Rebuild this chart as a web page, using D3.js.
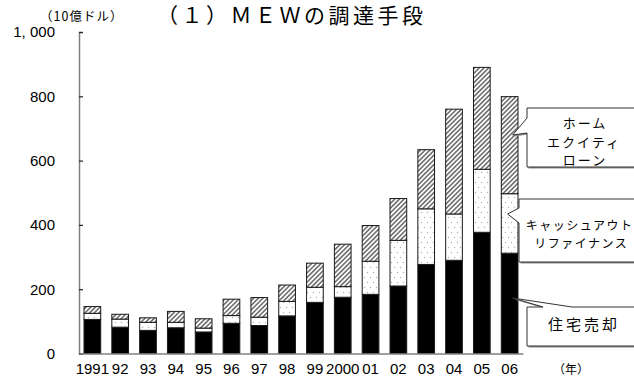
<!DOCTYPE html>
<html>
<head>
<meta charset="utf-8">
<script src="https://cdn.jsdelivr.net/npm/d3@7"></script>
<style>
  html, body { margin: 0; padding: 0; background: #fff; }
  svg { display: block; }
  .num { font-family: "Liberation Sans", Arial, sans-serif; }
  .jp { font-family: "Noto Sans CJK JP", "Noto Sans", sans-serif; }
</style>
</head>
<body>
<script>
// Mortgage equity withdrawal (MEW) by funding source, billions of dollars
const years = ["1991","92","93","94","95","96","97","98","99","2000","01","02","03","04","05","06"];
const homeSales = [106, 82, 72, 80, 67, 94, 87, 117, 159, 175, 184, 210, 277, 290, 377, 312];
const cashOutRefi = [19, 25, 25, 17, 12, 24, 26, 45, 47, 33, 103, 142, 173, 144, 196, 185];
const homeEquityLoans = [21, 15, 14, 34, 29, 51, 61, 51, 75, 132, 111, 130, 184, 326, 317, 302];
const yTicks = [0, 200, 400, 600, 800, 1000];
const seriesKeys = ["sales", "refi", "heloc"];

const W = 634, H = 378;
const svg = d3.select("body").append("svg").attr("width", W).attr("height", H);

// fill patterns
const defs = svg.append("defs");
const hatch = defs.append("pattern")
  .attr("id", "hatch").attr("patternUnits", "userSpaceOnUse")
  .attr("width", 3.3).attr("height", 3.3)
  .attr("patternTransform", "rotate(45)");
hatch.append("rect").attr("width", 3.3).attr("height", 3.3).attr("fill", "#fff");
hatch.append("line").attr("x1", 0.8).attr("x2", 0.8).attr("y1", 0).attr("y2", 3.3)
  .attr("stroke", "#747474").attr("stroke-width", 1.7);

const dots = defs.append("pattern")
  .attr("id", "dots").attr("patternUnits", "userSpaceOnUse")
  .attr("width", 6).attr("height", 10);
dots.append("rect").attr("width", 6).attr("height", 10).attr("fill", "#fff");
dots.append("circle").attr("cx", 1.5).attr("cy", 2.5).attr("r", 0.7).attr("fill", "#b0b0b0");
dots.append("circle").attr("cx", 4.5).attr("cy", 7.5).attr("r", 0.7).attr("fill", "#b0b0b0");

const fills = { sales: "#000", refi: "url(#dots)", heloc: "url(#hatch)" };

// scales
const x = d3.scaleBand().domain(years).range([79, 523]).paddingInner(0.4).paddingOuter(0.18);
const y = d3.scaleLinear().domain([0, 1000]).range([353.5, 32]);

const table = years.map((yr, i) => ({
  year: yr, sales: homeSales[i], refi: cashOutRefi[i], heloc: homeEquityLoans[i]
}));
const stacked = d3.stack().keys(seriesKeys)(table);

// bars
const layers = svg.append("g").selectAll("g").data(stacked).join("g")
  .attr("fill", d => fills[d.key]);
layers.selectAll("rect").data(d => d).join("rect")
  .attr("x", d => x(d.data.year))
  .attr("width", x.bandwidth())
  .attr("y", d => y(d[1]))
  .attr("height", d => y(d[0]) - y(d[1]))
  .attr("stroke", "#1a1a1a").attr("stroke-width", 1);

// y axis
const yAxis = svg.append("g").attr("transform", "translate(79,0)")
  .call(d3.axisLeft(y).tickValues(yTicks).tickSize(-4).tickPadding(24)
    .tickFormat(d => d === 1000 ? "1, 000" : d3.format("d")(d)));
yAxis.select(".domain").attr("stroke", "#808080").attr("stroke-width", 1.5);
yAxis.selectAll(".tick line").attr("stroke", "#222").attr("stroke-width", 1.2);
yAxis.selectAll(".tick text").attr("class", "num").attr("font-size", 15).attr("fill", "#000");

// x axis
const xAxis = svg.append("g").attr("transform", "translate(0,353.5)")
  .call(d3.axisBottom(x).tickSize(0).tickPadding(10).tickSizeOuter(0));
xAxis.select(".domain").attr("stroke", "#808080").attr("stroke-width", 1.5);
xAxis.selectAll(".tick text").attr("class", "num").attr("font-size", 15).attr("fill", "#000");

// titles and unit labels
svg.append("text").attr("class", "jp").attr("x", 157).attr("y", 23)
  .attr("font-size", 21).attr("letter-spacing", 3.5).attr("fill", "#000")
  .text("（１）ＭＥＷの調達手段");
svg.append("text").attr("class", "jp").attr("x", 40).attr("y", 21)
  .attr("font-size", 12.5).attr("letter-spacing", 1).attr("fill", "#000")
  .text("（10億ドル）");
svg.append("text").attr("class", "jp").attr("x", 553).attr("y", 374)
  .attr("font-size", 12).attr("fill", "#000")
  .text("（年）");

// callouts pointing at the 2006 stack
const last = table[table.length - 1];
const cx = x(last.year) + x.bandwidth() / 2;
const calloutG = svg.append("g");

function callout(points, lines) {
  calloutG.append("path")
    .attr("d", d3.line()(points.map(p => [p[0] + 1.5, p[1] + 1.5])) + "Z")
    .attr("fill", "#8a8a8a");
  calloutG.append("path")
    .attr("d", d3.line()(points) + "Z")
    .attr("fill", "#fff").attr("stroke", "#333").attr("stroke-width", 1);
  lines.forEach(l => {
    calloutG.append("text").attr("class", "jp")
      .attr("x", l.x + l.ls / 2).attr("y", l.y)
      .attr("text-anchor", "middle").attr("dominant-baseline", "central")
      .attr("font-size", l.fs).attr("letter-spacing", l.ls).attr("fill", "#000")
      .text(l.t);
  });
}

// ホームエクイティローン
callout([
  [527, 108], [640, 108], [640, 167], [527, 167], [527, 133],
  [cx + 3, 135], [527, 118]
], [
  { t: "ホーム", x: 584, y: 122.5, fs: 13, ls: 2 },
  { t: "エクイティ", x: 583, y: 141, fs: 13, ls: 2 },
  { t: "ローン", x: 584, y: 159.5, fs: 13, ls: 2 }
]);

// キャッシュアウトリファイナンス
callout([
  [519, 199], [640, 199], [640, 262], [519, 262], [519, 223],
  [cx - 2, 214], [519, 208]
], [
  { t: "キャッシュアウト", x: 579, y: 224, fs: 12, ls: 1.5 },
  { t: "リファイナンス", x: 580.5, y: 242, fs: 12, ls: 1.5 }
]);

// 住宅売却
callout([
  [527, 307], [543, 307], [cx + 3, 298], [572, 307], [640, 307],
  [640, 346], [527, 346]
], [
  { t: "住宅売却", x: 582.5, y: 323.5, fs: 15, ls: 3 }
]);
</script>
</body>
</html>
